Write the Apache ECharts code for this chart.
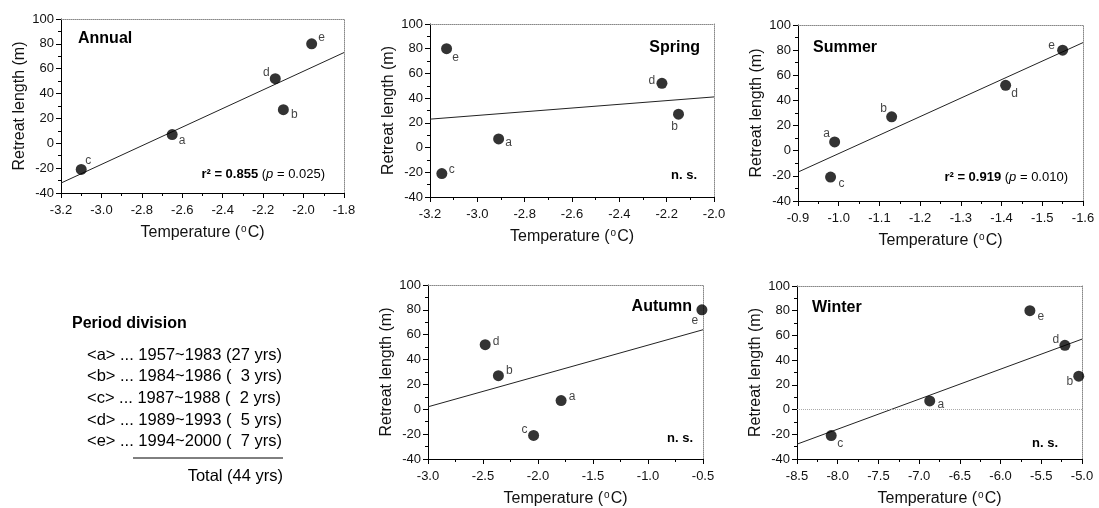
<!DOCTYPE html>
<html><head><meta charset="utf-8">
<script src="https://cdn.jsdelivr.net/npm/echarts@6/dist/echarts.min.js"></script>
<style>html,body{margin:0;padding:0;background:#fff}#c{width:1099px;height:508px}</style>
</head><body><div id="c"></div>
<script>
// ---- data ----
const periods = ['a', 'b', 'c', 'd', 'e'];
const retreat = [7, 27, -21, 52, 80];
const annualTemp = [-2.65, -2.10, -3.10, -2.14, -1.96];
const springTemp = [-2.91, -2.15, -3.15, -2.22, -3.13];
const summerTemp = [-0.99, -1.13, -0.98, -1.41, -1.55];
const autumnTemp = [-1.79, -2.36, -2.04, -2.48, -0.51];
const winterTemp = [-6.87, -5.04, -8.08, -5.21, -5.64];
const annualFit = [[-3.2, -32], [-1.8, 73]];
const springFit = [[-3.2, 23], [-2.0, 41]];
const summerFit = [[-0.9, -17], [-1.6, 86]];
const autumnFit = [[-3.0, 2], [-0.5, 64]];
const winterFit = [[-8.5, -28], [-5.0, 57]];
const yTicks = [-40, -20, 0, 20, 40, 60, 80, 100];
const periodRanges = ['1957~1983', '1984~1986', '1987~1988', '1989~1993', '1994~2000'];
const periodYears = [27, 3, 2, 5, 7];
const totalYears = 44;

// ---- layout / style ----
const FONT = "'Liberation Sans', Arial, sans-serif";
const panels = [
  {title: 'Annual', temp: annualTemp, fit: annualFit, xMin: -3.2, xMax: -1.8, xInt: 0.2, inverse: false,
   grid: {left: 61, top: 19, width: 283, height: 174},
   titlePos: [78, 39, 'left'], stat: ['0.855', '0.025'], statPos: [325, 174],
   offsets: [[10, 6], [11, 5], [7, -9], [-9, -6], [10, -6]]},
  {title: 'Spring', temp: springTemp, fit: springFit, xMin: -3.2, xMax: -2.0, xInt: 0.2, inverse: false,
   grid: {left: 430, top: 24, width: 284, height: 173},
   titlePos: [700, 48, 'right'], stat: null, statPos: [697, 175],
   offsets: [[10, 4], [-4, 12], [10, -4], [-10, -3], [9, 9]]},
  {title: 'Summer', temp: summerTemp, fit: summerFit, xMin: -1.6, xMax: -0.9, xInt: 0.1, inverse: true,
   grid: {left: 798, top: 25, width: 285, height: 176},
   titlePos: [813, 48, 'left'], stat: ['0.919', '0.010'], statPos: [1068, 177],
   offsets: [[-8, -8], [-8, -8], [11, 7], [9, 8], [-11, -4]]},
  {title: 'Autumn', temp: autumnTemp, fit: autumnFit, xMin: -3.0, xMax: -0.5, xInt: 0.5, inverse: false,
   grid: {left: 428, top: 285, width: 275, height: 175},
   titlePos: [692, 307, 'right'], stat: null, statPos: [693, 438],
   offsets: [[11, -4], [11, -5], [-9, -6], [11, -3], [-7, 11]]},
  {title: 'Winter', temp: winterTemp, fit: winterFit, xMin: -8.5, xMax: -5.0, xInt: 0.5, inverse: false,
   grid: {left: 797, top: 286, width: 285, height: 177}, zeroLine: true,
   titlePos: [812, 308, 'left'], stat: null, statPos: [1058, 443],
   offsets: [[11, 4], [-9, 5], [9, 8], [-9, -6], [11, 6]]}
];

const grids = [], xAxes = [], yAxes = [], series = [], graphics = [];
const black = '#000';
panels.forEach((p, i) => {
  grids.push(Object.assign({containLabel: false}, p.grid));
  xAxes.push({
    type: 'value', gridIndex: i, min: p.xMin, max: p.xMax, interval: p.xInt, inverse: p.inverse,
    axisLine: {show: true, onZero: false, lineStyle: {color: black, width: 1}},
    axisTick: {show: true, length: 5, lineStyle: {color: black}},
    minorTick: {show: true, splitNumber: 2, length: 3, lineStyle: {color: black}},
    splitLine: {show: false},
    axisLabel: {fontFamily: FONT, fontSize: 13, color: '#111', margin: 11,
      formatter: v => v.toFixed(1)},
    name: '{n|Temperature (}{s|o}{n|C)}', nameLocation: 'middle', nameGap: 31,
    nameTextStyle: {rich: {
      n: {fontFamily: FONT, fontSize: 16, color: '#111', lineHeight: 18},
      s: {fontFamily: FONT, fontSize: 10, color: '#111', verticalAlign: 'top', lineHeight: 18, padding: [0, 1, 0, 1]}
    }}
  });
  xAxes.push({
    type: 'value', gridIndex: i, position: 'top', min: p.xMin, max: p.xMax, inverse: p.inverse,
    axisLine: {show: true, onZero: false, lineStyle: {color: '#888', type: 'dotted'}},
    axisTick: {show: false}, axisLabel: {show: false}, splitLine: {show: false}
  });
  yAxes.push({
    type: 'value', gridIndex: i, min: -40, max: 100, interval: 20,
    axisLine: {show: true, onZero: false, lineStyle: {color: black, width: 1}},
    axisTick: {show: true, length: 5, lineStyle: {color: black}},
    minorTick: {show: true, splitNumber: 2, length: 3, lineStyle: {color: black}},
    splitLine: {show: false},
    axisLabel: {fontFamily: FONT, fontSize: 13, color: '#111', margin: 7,
      formatter: v => yTicks.includes(v) ? String(v) : ''},
    name: 'Retreat length (m)', nameLocation: 'middle', nameGap: 33,
    nameTextStyle: {fontFamily: FONT, fontSize: 16, color: '#111'}
  });
  yAxes.push({
    type: 'value', gridIndex: i, position: 'right', min: -40, max: 100,
    axisLine: {show: true, onZero: false, lineStyle: {color: '#888', type: 'dotted'}},
    axisTick: {show: false}, axisLabel: {show: false}, splitLine: {show: false}
  });
  series.push({
    type: 'line', xAxisIndex: 2 * i, yAxisIndex: 2 * i, data: p.fit, symbol: 'none',
    lineStyle: {color: '#222', width: 1}, silent: true, z: 2, animation: false
  });
  const s = {
    type: 'scatter', xAxisIndex: 2 * i, yAxisIndex: 2 * i, symbolSize: 11, z: 3, animation: false,
    clip: false, itemStyle: {color: '#000'},
    data: p.temp.map((t, k) => ({
      value: [t, retreat[k]], name: periods[k],
      label: {offset: p.offsets[k]}
    })),
    label: {show: true, position: 'inside', formatter: d => d.name,
      fontFamily: FONT, fontSize: 12, color: '#111'}
  };
  if (p.zeroLine) {
    s.markLine = {silent: true, symbol: 'none', animation: false,
      lineStyle: {color: '#aaa', type: 'dotted', width: 1}, label: {show: false},
      data: [{yAxis: 0}]};
  }
  series.push(s);
  graphics.push({type: 'text', style: {text: p.title, x: p.titlePos[0], y: p.titlePos[1],
    textAlign: p.titlePos[2], textVerticalAlign: 'middle',
    font: "bold 16px " + FONT, fill: '#000'}});
  if (p.stat) {
    graphics.push({type: 'text', style: {
      text: '{b|r² = ' + p.stat[0] + '}{n| (}{i|p}{n| = ' + p.stat[1] + ')}',
      x: p.statPos[0], y: p.statPos[1], textAlign: 'right', textVerticalAlign: 'middle',
      rich: {
        b: {font: "bold 13px " + FONT, fill: '#000'},
        n: {font: "13px " + FONT, fill: '#000'},
        i: {font: "italic 13px " + FONT, fill: '#000'}
      }}});
  } else {
    graphics.push({type: 'text', style: {text: 'n. s.', x: p.statPos[0], y: p.statPos[1],
      textAlign: 'right', textVerticalAlign: 'middle', font: "bold 13px " + FONT, fill: '#000'}});
  }
});

// period division table
graphics.push({type: 'text', style: {text: 'Period division', x: 72, y: 324,
  textVerticalAlign: 'middle', font: "bold 16px " + FONT, fill: '#000'}});
periods.forEach((k, j) => {
  const yrs = (periodYears[j] < 10 ? '\u2007' : '') + periodYears[j];
  graphics.push({type: 'text', style: {
    text: '<' + k + '> ... ' + periodRanges[j] + ' (' + yrs + ' yrs)',
    x: 87, y: 355 + j * 21.7, textVerticalAlign: 'middle', font: "16.5px " + FONT, fill: '#000'}});
});
graphics.push({type: 'line', shape: {x1: 133, y1: 458, x2: 283, y2: 458},
  style: {stroke: '#000', lineWidth: 1}});
graphics.push({type: 'text', style: {text: 'Total (' + totalYears + ' yrs)', x: 283, y: 476,
  textAlign: 'right', textVerticalAlign: 'middle', font: "16.5px " + FONT, fill: '#000'}});

const chart = echarts.init(document.getElementById('c'), null, {renderer: 'canvas'});
chart.setOption({
  backgroundColor: '#fff', animation: false,
  grid: grids, xAxis: xAxes, yAxis: yAxes, series: series, graphic: graphics
});
</script></body></html>
